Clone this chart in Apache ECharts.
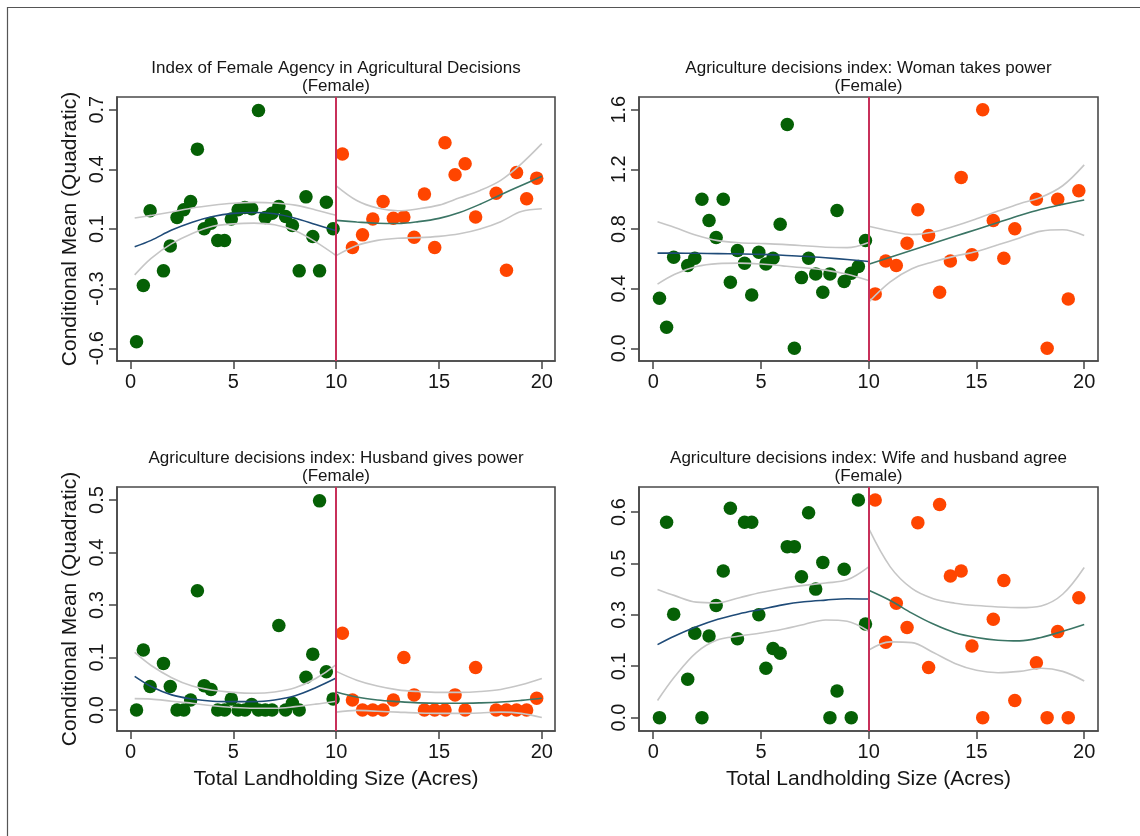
<!DOCTYPE html>
<html>
<head>
<meta charset="utf-8">
<script src="https://cdn.jsdelivr.net/npm/echarts@6/dist/echarts.min.js"></script>
<style>
html,body{margin:0;padding:0;background:#fff;}
#c{width:1140px;height:836px;}
</style>
</head>
<body>
<div id="c"></div>
<script>
// ---------- data ----------
const titles = [
  "Index of Female Agency in Agricultural Decisions",
  "Agriculture decisions index: Woman takes power",
  "Agriculture decisions index: Husband gives power",
  "Agriculture decisions index: Wife and husband agree"
];
const subTitle = "(Female)";
const yAxisTitle = "Conditional Mean (Quadratic)";
const xAxisTitle = "Total Landholding Size (Acres)";
const cutoff = 10;

const xTicks = [0, 5, 10, 15, 20];
const xGreen = [0.29,0.62,0.95,1.6,1.93,2.26,2.59,2.92,3.25,3.58,3.91,4.24,4.57,4.9,5.23,5.56,5.89,6.22,6.55,6.88,7.21,7.54,7.87,8.2,8.53,8.86,9.19,9.52,9.85];
const xOrange = [10.3,10.79,11.28,11.78,12.28,12.78,13.29,13.79,14.29,14.79,15.29,15.78,16.27,16.78,17.78,18.28,18.77,19.26,19.75];
const xFitLeft = [0.2,1,2,3,4,5,6,7,8,9,10];
const xFitRight = [10,11,12,13,14,15,16,17,18,19,20];

// Panel 1
const p1Ticks = [-0.6,-0.275,0.05,0.375,0.7];
const p1Labels = ["-0.6","-0.3","0.1","0.4","0.7"];
const p1Green = [-0.564,-0.258,0.149,-0.178,-0.042,0.113,0.155,0.2,0.485,0.051,0.082,-0.013,-0.013,0.104,0.155,0.167,0.16,0.695,0.113,0.136,0.173,0.118,0.069,-0.178,0.225,0.009,-0.178,0.196,0.051];
const p1Orange = [0.458,-0.051,0.018,0.104,0.2,0.109,0.115,0.005,0.24,-0.051,0.52,0.345,0.405,0.115,0.245,-0.175,0.358,0.215,0.327];
const p1FitL = [-0.047,-0.012,0.044,0.087,0.118,0.135,0.14,0.133,0.109,0.075,0.04];
const p1UpL  = [0.11,0.124,0.143,0.164,0.179,0.19,0.195,0.192,0.18,0.154,0.125];
const p1LoL  = [-0.2,-0.11,-0.03,0.026,0.065,0.078,0.082,0.073,0.04,-0.02,-0.095];
const p1FitR = [0.097,0.088,0.081,0.08,0.09,0.108,0.14,0.185,0.237,0.287,0.337];
const p1UpR  = [0.285,0.205,0.164,0.149,0.16,0.18,0.22,0.26,0.315,0.405,0.515];
const p1LoR  = [-0.095,-0.04,-0.012,0.0,0.003,0.01,0.024,0.05,0.09,0.145,0.16];

// Panel 2
const p2Ticks = [0,0.4,0.8,1.2,1.6];
const p2Labels = ["0.0","0.4","0.8","1.2","1.6"];
const p2Green = [0.336,0.141,0.611,0.555,0.604,1.0,0.857,0.743,1.0,0.443,0.656,0.571,0.358,0.644,0.566,0.604,0.832,1.5,0.0,0.474,0.604,0.499,0.376,0.499,0.924,0.448,0.503,0.548,0.723];
const p2Orange = [0.365,0.586,0.555,0.705,0.929,0.756,0.376,0.586,1.146,0.627,1.6,0.857,0.604,0.801,1.0,0.0,1.0,0.331,1.056];
const p2FitL = [0.638,0.638,0.637,0.635,0.633,0.63,0.624,0.617,0.607,0.595,0.582];
const p2UpL  = [0.848,0.81,0.758,0.722,0.708,0.703,0.697,0.688,0.678,0.675,0.71];
const p2LoL  = [0.43,0.496,0.548,0.568,0.571,0.565,0.553,0.54,0.524,0.497,0.455];
const p2FitR = [0.563,0.61,0.657,0.704,0.751,0.797,0.843,0.89,0.932,0.965,0.995];
const p2UpR  = [0.818,0.786,0.763,0.78,0.82,0.868,0.92,0.97,1.013,1.09,1.23];
const p2LoR  = [0.31,0.445,0.533,0.58,0.618,0.649,0.694,0.74,0.786,0.795,0.757];

// Panel 3
const p3Ticks = [0,0.125,0.25,0.375,0.5];
const p3Labels = ["0.0","0.1","0.3","0.4","0.5"];
const p3Green = [0.0,0.143,0.056,0.111,0.056,0.0,0.0,0.024,0.284,0.058,0.049,0.0,0.0,0.026,0.0,0.0,0.013,0.0,0.0,0.0,0.201,0.0,0.016,0.0,0.078,0.133,0.498,0.091,0.026];
const p3Orange = [0.183,0.024,0.0,0.0,0.0,0.024,0.125,0.036,0.0,0.0,0.0,0.036,0.0,0.101,0.0,0.0,0.0,0.0,0.028];
const p3FitL = [0.08,0.056,0.036,0.026,0.021,0.02,0.02,0.024,0.034,0.053,0.076];
const p3UpL  = [0.137,0.106,0.077,0.057,0.047,0.042,0.04,0.043,0.053,0.075,0.108];
const p3LoL  = [0.027,0.026,0.021,0.016,0.01,0.006,0.004,0.004,0.008,0.014,0.021];
const p3FitR = [0.043,0.031,0.024,0.02,0.017,0.016,0.016,0.017,0.019,0.023,0.028];
const p3UpR  = [0.092,0.071,0.057,0.048,0.044,0.042,0.042,0.044,0.049,0.06,0.075];
const p3LoR  = [-0.005,-0.001,-0.003,-0.005,-0.007,-0.008,-0.008,-0.007,-0.005,-0.008,-0.018];

// Panel 4
const p4Ticks = [0,0.15,0.3,0.45,0.6];
const p4Labels = ["0.0","0.1","0.3","0.5","0.6"];
const p4Green = [0.0,0.57,0.302,0.112,0.246,0.0,0.238,0.327,0.428,0.611,0.23,0.57,0.57,0.3,0.144,0.202,0.188,0.499,0.499,0.411,0.598,0.375,0.453,0.0,0.078,0.433,0.0,0.635,0.273];
const p4Orange = [0.635,0.22,0.334,0.263,0.569,0.146,0.622,0.413,0.428,0.209,0.0,0.287,0.4,0.05,0.16,0.0,0.251,0.0,0.35];
const p4FitL = [0.213,0.238,0.265,0.287,0.303,0.316,0.329,0.338,0.343,0.347,0.346];
const p4UpL  = [0.374,0.356,0.337,0.335,0.35,0.365,0.377,0.386,0.393,0.402,0.44];
const p4LoL  = [0.05,0.12,0.19,0.227,0.238,0.247,0.258,0.272,0.285,0.281,0.252];
const p4FitR = [0.372,0.342,0.305,0.273,0.248,0.234,0.226,0.224,0.234,0.252,0.272];
const p4UpR  = [0.552,0.44,0.377,0.347,0.334,0.327,0.323,0.321,0.326,0.36,0.438];
const p4LoR  = [0.197,0.221,0.219,0.19,0.158,0.138,0.131,0.135,0.144,0.135,0.107];

// ---------- layout / style ----------
const FONT = "'Liberation Sans', Arial, Helvetica, sans-serif";
const TXT = "#161616";
const C_GREEN = "#056005";
const C_ORANGE = "#ff4500";
const C_BLUE = "#1f4b78";
const C_TEAL = "#3b7565";
const C_CI = "#c6c6c6";
const C_CUT = "#c8305a";
const C_FRAME = "#4a4a4a";

const panels = [
  {grid:{left:117,top:97,width:438,height:264}, yMin:-0.669, yMax:0.769, ticks:p1Ticks, labels:p1Labels,
   green:p1Green, orange:p1Orange, fitL:p1FitL, upL:p1UpL, loL:p1LoL, fitR:p1FitR, upR:p1UpR, loR:p1LoR, yName:true, xName:false},
  {grid:{left:639,top:97,width:459,height:264}, yMin:-0.085, yMax:1.685, ticks:p2Ticks, labels:p2Labels,
   green:p2Green, orange:p2Orange, fitL:p2FitL, upL:p2UpL, loL:p2LoL, fitR:p2FitR, upR:p2UpR, loR:p2LoR, yName:false, xName:false},
  {grid:{left:117,top:487,width:438,height:244}, yMin:-0.05, yMax:0.531, ticks:p3Ticks, labels:p3Labels,
   green:p3Green, orange:p3Orange, fitL:p3FitL, upL:p3UpL, loL:p3LoL, fitR:p3FitR, upR:p3UpR, loR:p3LoR, yName:true, xName:true},
  {grid:{left:639,top:487,width:459,height:244}, yMin:-0.039, yMax:0.673, ticks:p4Ticks, labels:p4Labels,
   green:p4Green, orange:p4Orange, fitL:p4FitL, upL:p4UpL, loL:p4LoL, fitR:p4FitR, upR:p4UpR, loR:p4LoR, yName:false, xName:true}
];

function zip(xs, ys){ return xs.map((x,i)=>[x, ys[i]]); }

const grids = [], xAxes = [], yAxes = [], series = [], graphics = [];

graphics.push({type:'rect', shape:{x:7.5,y:7.5,width:1140,height:840}, style:{fill:null, stroke:'#555', lineWidth:1.2}, silent:true});

panels.forEach((p, i) => {
  grids.push(Object.assign({show:true, borderColor:C_FRAME, borderWidth:1.6, backgroundColor:'#fff'}, p.grid));
  xAxes.push({
    type:'value', gridIndex:i, min:-0.66, max:20.64, position:'bottom',
    axisLine:{show:true, onZero:false, lineStyle:{color:C_FRAME, width:1.6}},
    axisTick:{show:true, inside:false, customValues:xTicks, length:8, lineStyle:{color:'#444', width:1.5}},
    axisLabel:{show:true, customValues:xTicks, margin:11, fontSize:20, fontFamily:FONT, color:TXT},
    splitLine:{show:false},
    name: p.xName ? xAxisTitle : '', nameLocation:'middle', nameGap:38,
    nameTextStyle:{fontSize:21, fontFamily:FONT, color:TXT}
  });
  const labs = p.labels, tks = p.ticks;
  yAxes.push({
    type:'value', gridIndex:i, min:p.yMin, max:p.yMax, position:'left',
    axisLine:{show:true, onZero:false, lineStyle:{color:C_FRAME, width:1.6}},
    axisTick:{show:true, inside:false, customValues:tks, length:8, lineStyle:{color:'#444', width:1.5}},
    axisLabel:{show:true, customValues:tks, rotate:90, margin:10, fontSize:20, fontFamily:FONT, color:TXT,
      formatter:(v)=>{ let best=0; tks.forEach((t,k)=>{ if(Math.abs(t-v)<Math.abs(tks[best]-v)) best=k; }); return labs[best]; }},
    splitLine:{show:false},
    name: p.yName ? yAxisTitle : '', nameLocation:'middle', nameGap:36, nameRotate:90,
    nameTextStyle:{fontSize:21, fontFamily:FONT, color:TXT}
  });
  const cx = p.grid.left + p.grid.width/2;
  graphics.push({type:'text', x:cx, y:p.grid.top-37, style:{text:titles[i], textAlign:'center', textVerticalAlign:'top', font:'17px '+FONT, fill:TXT}, silent:true});
  graphics.push({type:'text', x:cx, y:p.grid.top-19, style:{text:subTitle, textAlign:'center', textVerticalAlign:'top', font:'17px '+FONT, fill:TXT}, silent:true});

  const common = {xAxisIndex:i, yAxisIndex:i, silent:true, animation:false};
  series.push(Object.assign({type:'scatter', data:zip(xGreen, p.green), symbolSize:13.5, itemStyle:{color:C_GREEN, opacity:1}, z:2,
    markLine:{silent:true, symbol:['none','none'], label:{show:false}, lineStyle:{color:C_CUT, width:2, type:'solid'}, data:[{xAxis:cutoff}], animation:false}}, common));
  series.push(Object.assign({type:'scatter', data:zip(xOrange, p.orange), symbolSize:13.5, itemStyle:{color:C_ORANGE, opacity:1}, z:2}, common));
  const lines = [[p.upL,C_CI],[p.loL,C_CI],[p.fitL,C_BLUE]];
  lines.forEach(([ys,col])=>series.push(Object.assign({type:'line', data:zip(xFitLeft, ys), smooth:0.35, showSymbol:false, lineStyle:{color:col, width:1.6}, z:3}, common)));
  const linesR = [[p.upR,C_CI],[p.loR,C_CI],[p.fitR,C_TEAL]];
  linesR.forEach(([ys,col])=>series.push(Object.assign({type:'line', data:zip(xFitRight, ys), smooth:0.35, showSymbol:false, lineStyle:{color:col, width:1.6}, z:3}, common)));
});

const chart = echarts.init(document.getElementById('c'), null, {renderer:'canvas'});
chart.setOption({
  backgroundColor:'#ffffff',
  animation:false,
  grid:grids, xAxis:xAxes, yAxis:yAxes, series:series, graphic:graphics
});
</script>
</body>
</html>
